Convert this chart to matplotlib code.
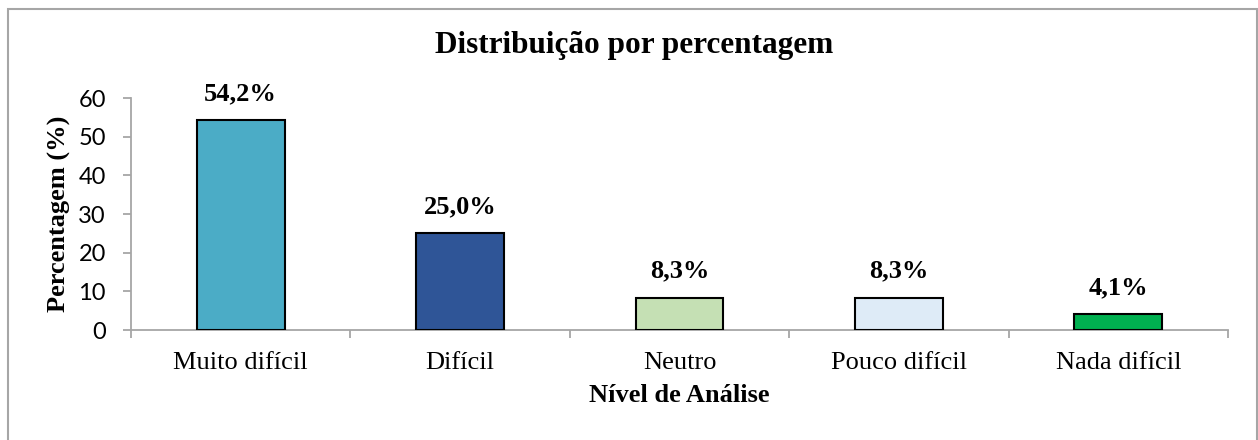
import numpy as np
import matplotlib.pyplot as plt
from matplotlib.patches import Rectangle
#
# data
# ----
#
categories = ["Muito difícil", "Difícil", "Neutro", "Pouco difícil", "Nada difícil"]
values = [54.2, 25.0, 8.3, 8.3, 4.1]
value_labels = ["54,2%", "25,0%", "8,3%", "8,3%", "4,1%"]
colors = ["#4BACC6", "#2F5597", "#C5E0B4", "#DEEBF7", "#00B050"]
yticks = [0, 10, 20, 30, 40, 50, 60]
#
# figure
# ------
#
serif = ["Liberation Serif", "DejaVu Serif"]
sans = ["Lato", "DejaVu Sans"]

fig = plt.figure(figsize=(12.58, 4.4), dpi=100)
ax = fig.add_axes([131/1258, 1 - 330/440, (1228 - 131)/1258, (330 - 98)/440])

x = np.arange(len(categories))
ax.bar(x, values, width=0.40, color=colors, edgecolor="black", linewidth=1.5, zorder=3)
for xi, v, lab in zip(x, values, value_labels):
    ax.annotate(lab, (xi, v), xytext=(0, 11), textcoords="offset points",
                ha="center", va="bottom", family=serif, fontsize=19, fontweight="bold")

ax.set_xlim(-0.5, len(categories) - 0.5)
ax.set_ylim(0, 60)
ax.set_yticks(yticks)
ax.set_yticklabels([str(t) for t in yticks], family=sans, fontsize=17)
ax.set_xticks(x)
ax.set_xticklabels(categories, family=serif, fontsize=19)
ax.set_xticks(np.arange(len(categories) + 1) - 0.5, minor=True)
ax.tick_params(axis="x", which="major", length=0, pad=16)
ax.tick_params(axis="x", which="minor", length=6, width=1.3, color="#a6a6a6")
ax.tick_params(axis="y", length=6, width=1.3, color="#a6a6a6", pad=12)

for s in ["top", "right"]:
    ax.spines[s].set_visible(False)
for s in ["left", "bottom"]:
    ax.spines[s].set_color("#a6a6a6")
    ax.spines[s].set_linewidth(1.3)

ax.set_ylabel("Percentagem (%)", family=serif, fontsize=19, fontweight="bold", va="center")
ax.yaxis.set_label_coords((59 - 131)/1097, 0.5)
ax.set_xlabel("Nível de Análise", family=serif, fontsize=19, fontweight="bold", labelpad=7)
fig.text(634/1258, 1 - 46/440, "Distribuição por percentagem", family=serif,
         fontsize=22.5, fontweight="bold", ha="center", va="center")

# outer chart frame
fig.patches.append(Rectangle((8/1258, -0.05), (1257 - 8)/1258, 1.05 - 9/440,
                             transform=fig.transFigure, fill=False,
                             edgecolor="#a6a6a6", linewidth=1.5))

fig.savefig("out.png", dpi=100)
